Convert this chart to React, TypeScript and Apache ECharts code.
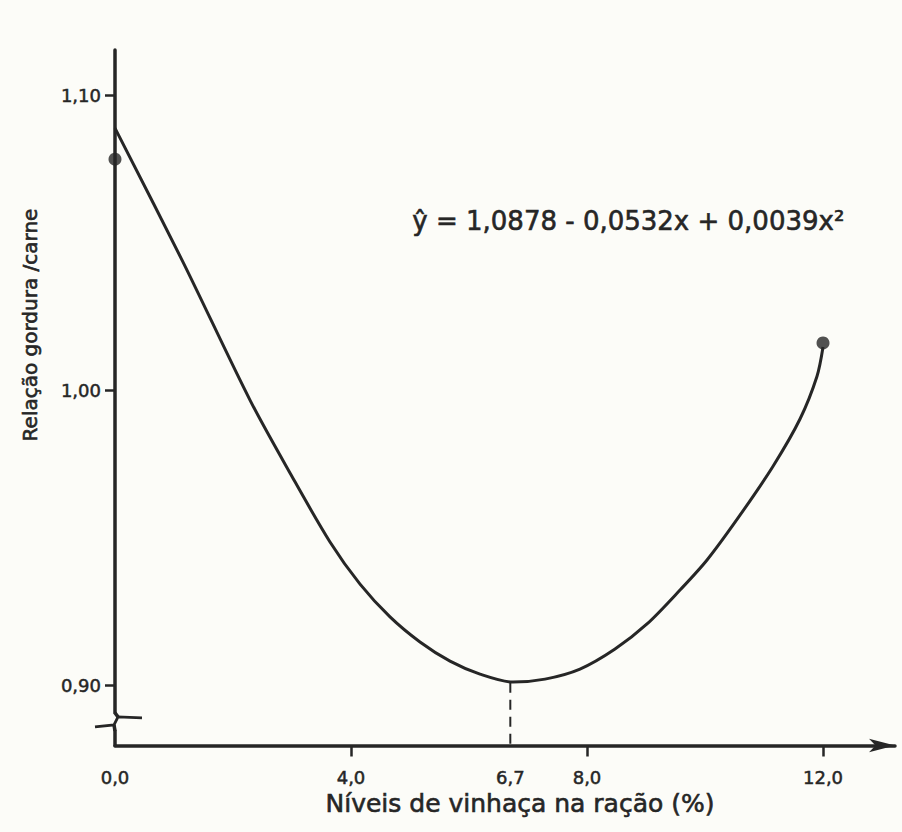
import React, { useEffect, useRef } from "react";
import * as echarts from "echarts";

// ---- data ----
const curveX = [0, 1.153, 2.288, 2.966, 3.644, 4.153, 4.661, 5.169, 5.678, 6.186, 6.746, 7.288, 7.881, 8.475, 9.017, 9.576, 10.034, 10.593, 11.153, 11.61, 11.898, 12.0];
const curveY = [1.0888, 1.0434, 0.9966, 0.9719, 0.9485, 0.9342, 0.9231, 0.9146, 0.9081, 0.9037, 0.901, 0.902, 0.9054, 0.9122, 0.9207, 0.9322, 0.9424, 0.9576, 0.9742, 0.9902, 1.0047, 1.0146];
const obsX = [0, 12.0];
const obsY = [1.0783, 1.016];
const minX = 6.7;
const minY = 0.9008;
const xTickValues = [4, 8, 12];
const xLabelValues = [0, 4, 6.7, 8, 12];
const yTickValues = [0.9, 1.0, 1.1];
const breakY = 0.8875;
const equation = "ŷ = 1,0878 - 0,0532x + 0,0039x²";
const xName = "Níveis de vinhaça na ração (%)";
const yName = "Relação gordura /carne";

const X_MIN = 0;
const X_MAX = 13.22;
const Y_MIN = 0.8795;
const Y_MAX = 1.1153;

const ink = "#262626";
const bg = "#fcfcf8";
const font = "DejaVu Sans";

export default function App() {
  const ref = useRef<HTMLDivElement>(null);
  useEffect(() => {
    if (!ref.current) return;
    const chart = echarts.init(ref.current, undefined, { renderer: "svg" });
    const labelStyle = {
      fontSize: 18,
      color: ink,
      fontFamily: font,
      textBorderColor: ink,
      textBorderWidth: 0.5,
    };
    const option: any = {
      animation: false,
      backgroundColor: bg,
      grid: { left: 115, right: 7, top: 50, bottom: 86.5 },
      xAxis: {
        type: "value",
        min: X_MIN,
        max: X_MAX,
        splitLine: { show: false },
        axisLine: {
          show: true,
          lineStyle: { color: ink, width: 3.5 },
          symbol: ["none", "arrow"],
          symbolSize: [10, 26],
        },
        axisTick: {
          show: true,
          customValues: xTickValues,
          length: 11,
          lineStyle: { color: ink, width: 2.5 },
        },
        axisLabel: {
          ...labelStyle,
          customValues: xLabelValues,
          formatter: (v: number) => v.toFixed(1).replace(".", ","),
          margin: 23,
        },
      },
      yAxis: {
        type: "value",
        min: Y_MIN,
        max: Y_MAX,
        splitLine: { show: false },
        axisLine: { show: true, lineStyle: { color: ink, width: 3.5 } },
        axisTick: {
          show: true,
          customValues: yTickValues,
          length: 10,
          lineStyle: { color: ink, width: 2.5 },
        },
        axisLabel: {
          ...labelStyle,
          customValues: yTickValues,
          formatter: (v: number) => v.toFixed(2).replace(".", ","),
          margin: 14,
        },
      },
      series: [
        {
          type: "line",
          data: curveX.map((x, i) => [x, curveY[i]]),
          smooth: 0.3,
          showSymbol: false,
          lineStyle: { color: ink, width: 3 },
          z: 3,
        },
        {
          type: "line",
          data: [
            [minX, minY],
            [minX, Y_MIN],
          ],
          showSymbol: false,
          lineStyle: { color: ink, width: 2, type: [10, 7] },
          z: 2,
        },
        {
          type: "scatter",
          data: obsX.map((x, i) => [x, obsY[i]]),
          symbolSize: 13,
          itemStyle: { color: ink },
          z: 4,
        },
      ],
    };
    chart.setOption(option);

    const p = chart.convertToPixel({ gridIndex: 0 }, [0, breakY]) as number[];
    const bx = p[0];
    const by = p[1];
    const textStroke = { stroke: ink, lineWidth: 0.6 };
    chart.setOption({
      graphic: [
        {
          type: "rect",
          shape: { x: bx - 5, y: by - 8, width: 10, height: 16 },
          style: { fill: bg },
          z: 10,
        },
        {
          type: "polyline",
          shape: {
            points: [
              [bx - 20, by + 5],
              [bx - 1, by + 3],
              [bx + 3, by - 5],
              [bx + 27, by - 4],
            ],
          },
          style: { stroke: ink, lineWidth: 2.8, fill: "none" },
          z: 11,
        },
        {
          type: "polyline",
          shape: { points: [[bx, by - 9], [bx + 3, by - 5]] },
          style: { stroke: ink, lineWidth: 3.5, fill: "none" },
          z: 11,
        },
        {
          type: "polyline",
          shape: { points: [[bx - 1, by + 3], [bx, by + 9]] },
          style: { stroke: ink, lineWidth: 3.5, fill: "none" },
          z: 11,
        },
        {
          type: "text",
          left: 412,
          top: 208,
          style: { text: equation, fontSize: 26, fill: ink, fontFamily: font, ...textStroke },
          z: 10,
        },
        {
          type: "text",
          x: 520,
          y: 803,
          style: {
            text: xName,
            fontSize: 25,
            fill: ink,
            fontFamily: font,
            textAlign: "center",
            textVerticalAlign: "middle",
            ...textStroke,
          },
          z: 10,
        },
        {
          type: "text",
          x: 30,
          y: 325,
          rotation: Math.PI / 2,
          style: {
            text: yName,
            fontSize: 20,
            fill: ink,
            fontFamily: font,
            textAlign: "center",
            textVerticalAlign: "middle",
            ...textStroke,
          },
          z: 10,
        },
      ],
    });
    return () => chart.dispose();
  }, []);
  return (
    <div
      ref={ref}
      style={{ position: "fixed", left: 0, top: 0, width: 902, height: 832, background: bg }}
    />
  );
}
